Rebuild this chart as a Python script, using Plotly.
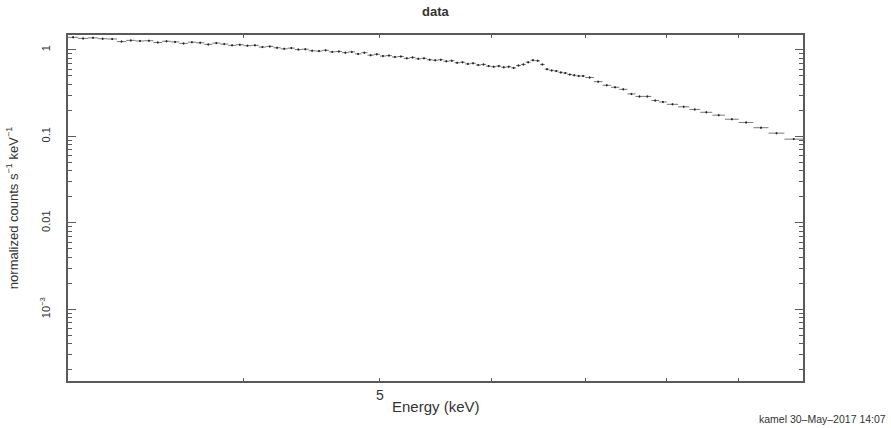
import plotly.graph_objects as go

# Energy bin edges (keV)
energy_edges = [
    3.00, 3.05, 3.10, 3.15, 3.20, 3.25, 3.30, 3.35, 3.40, 3.45,
    3.50, 3.55, 3.60, 3.65, 3.70, 3.75, 3.80, 3.85, 3.90, 3.95,
    4.00, 4.05, 4.10, 4.15, 4.20, 4.25, 4.30, 4.35, 4.40, 4.45,
    4.50, 4.55, 4.60, 4.65, 4.70, 4.75, 4.80, 4.85, 4.90, 4.95,
    5.00, 5.05, 5.10, 5.15, 5.20, 5.25, 5.30, 5.35, 5.40, 5.45,
    5.50, 5.55, 5.60, 5.65, 5.70, 5.75, 5.80, 5.85, 5.90, 5.95,
    6.00, 6.05, 6.10, 6.15, 6.20, 6.25, 6.30, 6.35, 6.40, 6.45,
    6.50, 6.55, 6.60, 6.65, 6.70, 6.75, 6.80, 6.85, 6.90, 6.95,
    7.00, 7.10, 7.20, 7.30, 7.40, 7.50, 7.60, 7.70, 7.80, 7.90,
    8.00, 8.15, 8.30, 8.45, 8.62, 8.80, 9.00, 9.22, 9.45, 9.70,
    10.00,
]

# normalized counts s^-1 keV^-1
counts = [
    1.40, 1.36, 1.38, 1.35, 1.34, 1.25, 1.29, 1.27, 1.28, 1.22,
    1.26, 1.24, 1.19, 1.23, 1.21, 1.16, 1.20, 1.17, 1.13, 1.15,
    1.12, 1.13, 1.08, 1.10, 1.06, 1.03, 1.05, 1.01, 1.02, 0.98,
    0.97, 0.99, 0.95, 0.96, 0.93, 0.95, 0.90, 0.93, 0.87, 0.89,
    0.85, 0.86, 0.83, 0.84, 0.80, 0.82, 0.79, 0.80, 0.77, 0.76,
    0.77, 0.74, 0.75, 0.71, 0.72, 0.69, 0.70, 0.67, 0.68, 0.65,
    0.64, 0.65, 0.63, 0.64, 0.62, 0.66, 0.68, 0.72, 0.76, 0.75,
    0.68, 0.60, 0.58, 0.57, 0.55, 0.54, 0.52, 0.51, 0.50, 0.50,
    0.48, 0.43, 0.39, 0.37, 0.35, 0.31, 0.29, 0.29, 0.26, 0.25,
    0.235, 0.22, 0.205, 0.19, 0.176, 0.158, 0.145, 0.126, 0.109, 0.093,
]

y_major_vals = [1e-3, 1e-2, 1e-1, 1]
y_major_text = ["10<sup>\u22123</sup>", "0.01", "0.1", "1"]
x_tick_vals = [4, 5, 6, 7, 8, 9]
x_tick_text = ["", "5", "", "", "", ""]

energy = [(lo + hi) / 2 for lo, hi in zip(energy_edges[:-1], energy_edges[1:])]
half_w = [(hi - lo) / 2 for lo, hi in zip(energy_edges[:-1], energy_edges[1:])]

y_minor_vals = [m * d for d in [1e-4, 1e-3, 1e-2, 1e-1, 1] for m in range(2, 10)]

axis_col = "#5a5a5a"
txt_col = "#333333"

fig = go.Figure()
fig.add_trace(go.Scatter(
    x=energy, y=counts, mode="markers",
    marker=dict(color="#222", size=2),
    error_x=dict(type="data", array=half_w, color="#555", thickness=0.8, width=0),
    error_y=dict(type="percent", value=3, color="#555", thickness=0.8, width=0),
    showlegend=False,
))

fig.update_layout(
    width=891, height=428,
    margin=dict(l=68, r=88, t=35, b=47),
    paper_bgcolor="white", plot_bgcolor="white",
    font=dict(family="Liberation Sans, Arial, sans-serif", color=txt_col),
    xaxis=dict(
        type="log", range=[0.4771, 1.0],
        tickmode="array", tickvals=x_tick_vals, ticktext=x_tick_text,
        ticks="inside", ticklen=3, tickwidth=1, tickcolor=axis_col,
        showline=True, linecolor=axis_col, linewidth=1.5, mirror="ticks",
        showgrid=False, zeroline=False,
        tickfont=dict(size=14, color=txt_col),
        ticklabelstandoff=0,
    ),
    yaxis=dict(
        type="log", range=[-3.83, 0.173],
        tickmode="array", tickvals=y_major_vals, ticktext=y_major_text,
        tickangle=-90,
        ticks="inside", ticklen=8, tickwidth=1, tickcolor=axis_col,
        showline=True, linecolor=axis_col, linewidth=1.5, mirror="ticks",
        showgrid=False, zeroline=False,
        tickfont=dict(size=11, color=txt_col),
        ticklabelstandoff=12,
        minor=dict(tickmode="array", tickvals=y_minor_vals, ticks="inside",
                   ticklen=4, tickwidth=1, tickcolor=axis_col, showgrid=False),
    ),
    annotations=[
        dict(text="<b>data</b>", x=0.5, y=1.0 + (35 - 12) / 346, xref="paper", yref="paper",
             yanchor="middle", showarrow=False, font=dict(size=13, color=txt_col)),
        dict(text="Energy (keV)", xref="paper", yref="paper",
             x=0.5, y=-0.075, yanchor="middle", xanchor="center",
             showarrow=False, font=dict(size=15, color=txt_col)),
        dict(text="normalized counts s<sup>\u22121</sup> keV<sup>\u22121</sup>",
             xref="paper", yref="paper", x=-0.076, y=0.5, textangle=-90,
             xanchor="center", yanchor="middle",
             showarrow=False, font=dict(size=13, color=txt_col,
                                        family="Liberation Sans Narrow, Liberation Sans, Arial")),
        dict(text="kamel 30\u2013May\u20132017 14:07", xref="paper", yref="paper",
             x=(757 - 68) / 735, y=-0.11, xanchor="left", yanchor="middle",
             showarrow=False, font=dict(size=10.5, color=txt_col)),
    ],
)

fig.write_html("out.html")
